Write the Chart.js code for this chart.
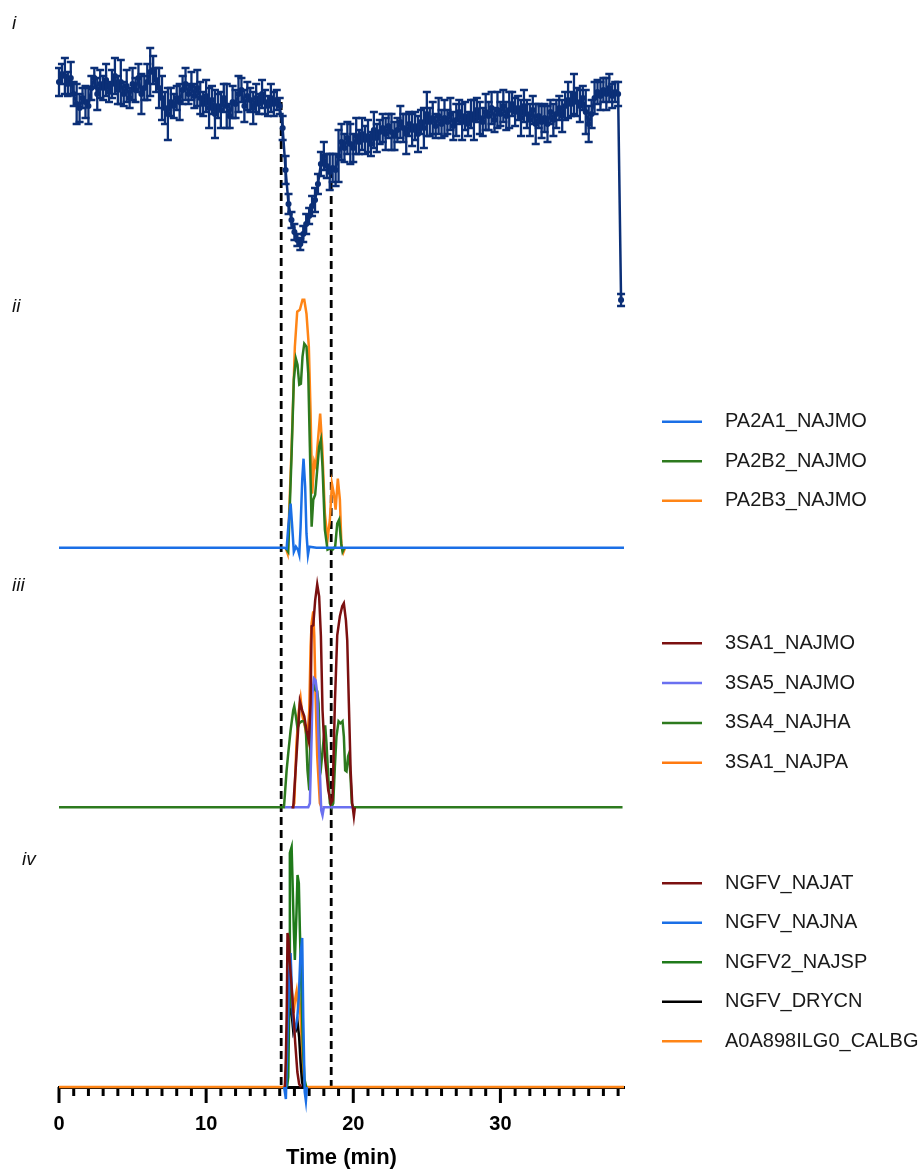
<!DOCTYPE html>
<html>
<head>
<meta charset="utf-8">
<script src="https://cdn.jsdelivr.net/npm/chart.js@4.4.0/dist/chart.umd.min.js"></script>
<style>
  html, body { margin: 0; padding: 0; background: #fff; }
</style>
</head>
<body>
<canvas id="chart" width="922" height="1169"></canvas>
<script>
// panel i: trace sampled every 0.2 min, with error bars
const iStep = 0.2;
const iValues = [
  238, 246, 244, 236, 242,  226, 216, 212, 222, 218,  214, 232, 242, 226, 236,
  232, 240, 228, 236, 244,  230, 238, 226, 234, 222,  236, 230, 242, 226, 232,
  238, 248, 250, 240, 232,  222, 212, 206, 218, 214,  222, 218, 230, 236, 226,
  234, 224, 232, 222, 216,  224, 212, 220, 206, 214,  210, 222, 214, 204, 218,
  216, 226, 230, 214, 224,  220, 212, 222, 216, 226,  218, 214, 222, 216, 220,
  214, 192, 150, 116, 100,  88, 80, 76, 86, 96,       104, 114, 120, 136, 156,
  164, 154, 148, 152, 150,  164, 178, 172, 182, 176,  172, 184, 178, 186, 180,
  184, 176, 190, 182, 188,  192, 186, 194, 188, 184,  190, 198, 192, 186, 196,
  190, 194, 186, 198, 192,  206, 198, 202, 194, 204,  196, 202, 198, 206, 194,
  200, 208, 198, 204, 196,  206, 200, 210, 202, 198,  208, 204, 212, 200, 210,
  206, 214, 204, 210, 216,  208, 212, 202, 214, 206,  200, 210, 196, 204, 198,
  202, 196, 208, 200, 206,  212, 204, 214, 220, 216,  226, 218, 214, 222, 208,
  196, 206, 222, 228, 224,  230, 226, 232, 224, 228,  226, 20
];
const iErrors = [
  14, 10, 18, 12, 16,  12, 20, 14, 10, 16,  18, 12, 10, 16, 14,
  12, 16, 10, 14, 18,  14, 22, 12, 16, 10,  16, 12, 14, 20, 12,
  18, 24, 14, 12, 20,  22, 16, 26, 14, 12,  12, 18, 14, 16, 10,
  14, 12, 18, 16, 12,  16, 20, 14, 24, 12,  18, 14, 22, 12, 16,
  14, 18, 12, 16, 14,  12, 16, 14, 10, 14,  12, 10, 14, 12, 10,
  8, 12, 14, 10, 8,    8, 6, 6, 8, 10,      8, 10, 12, 10, 12,
  14, 12, 18, 14, 16,  26, 18, 14, 16, 20,  14, 18, 12, 16, 14,
  16, 12, 18, 14, 12,  14, 16, 12, 18, 14,  12, 16, 14, 20, 12,
  16, 14, 18, 12, 20,  22, 14, 16, 12, 18,  14, 18, 12, 16, 14,
  16, 12, 18, 14, 12,  14, 20, 12, 16, 14,  18, 14, 16, 12, 18,
  12, 16, 14, 18, 12,  14, 12, 18, 16, 14,  16, 14, 20, 12, 16,
  14, 18, 12, 16, 14,  12, 16, 14, 18, 12,  20, 14, 16, 12, 22,
  18, 14, 16, 12, 14,  12, 16, 14, 12, 10,  12, 6
];
const markerTimes = [15.1, 18.5];
const markerTops = [218, 150];

// panel ii
const pa2a1T = [0, 15.3, 15.47, 15.6, 15.74, 15.85, 15.96, 16.1, 16.24, 16.33, 16.42, 16.53, 16.62, 16.73, 16.82, 16.92, 17.01, 17.5, 38.4];
const pa2a1V = [0, 0, -1, 24, 44, 21, -4, 1, -2, -7, 21, 68, 89, 61, 14, -7, 1, 0, 0];
const pa2b2T = [15.4, 15.58, 15.81, 15.96, 16.1, 16.21, 16.33, 16.44, 16.55, 16.67, 16.82, 16.94, 17.05, 17.17, 17.28, 17.41, 17.55, 17.68, 17.8, 17.91, 18.07, 18.25, 18.41, 18.59, 18.77, 18.91, 19.04, 19.18, 19.27, 19.4];
const pa2b2V = [0, -4, 94, 168, 189, 183, 163, 164, 191, 204, 201, 174, 101, 21, 48, 53, 78, 101, 108, 81, 18, -2, -1, -2, 1, 24, 28, 4, -4, 0];
const pa2b3T = [15.4, 15.54, 15.81, 16.03, 16.19, 16.37, 16.55, 16.67, 16.82, 16.98, 17.1, 17.21, 17.35, 17.46, 17.62, 17.75, 17.89, 18.07, 18.25, 18.41, 18.55, 18.68, 18.8, 18.95, 19.09, 19.2, 19.32, 19.45];
const pa2b3V = [0, -6, 101, 201, 236, 238, 248, 248, 234, 201, 134, 54, 86, 81, 111, 134, 101, 34, 8, 28, 64, 54, 38, 69, 48, 1, -5, 0];

// panel iii
const sa1MoT = [15.8, 15.92, 16.14, 16.37, 16.53, 16.67, 16.82, 16.98, 17.1, 17.17, 17.28, 17.41, 17.55, 17.68, 17.8, 17.91, 18.07, 18.3, 18.48, 18.59, 18.75, 18.91, 19.09, 19.25, 19.36, 19.5, 19.59, 19.7, 19.82, 19.93, 20.04, 20.11];
const sa1MoV = [0, 0, 51, 106, 97, 91, 77, 66, 104, 181, 182, 207, 223, 211, 171, 97, 51, 17, 4, 7, 104, 172, 191, 201, 204, 187, 167, 104, 37, 4, -9, 0];
const sa5T = [15.35, 16.94, 17.05, 17.17, 17.23, 17.32, 17.44, 17.55, 17.64, 17.73, 17.82, 17.91, 18.0, 20.0];
const sa5V = [0, 0, 4, 71, 114, 129, 127, 114, 71, 37, -3, -8, 0, 0];
const sa4T = [0, 15.29, 15.47, 15.58, 15.74, 15.92, 15.99, 16.1, 16.21, 16.33, 16.49, 16.67, 16.78, 16.89, 17.01, 17.1, 17.21, 17.32, 17.44, 17.55, 17.64, 17.73, 17.82, 17.96, 18.09, 18.18, 18.3, 18.41, 18.52, 18.64, 18.75, 18.86, 19.0, 19.13, 19.27, 19.36, 19.45, 19.54, 19.65, 19.72, 19.82, 19.9, 19.99, 38.3];
const sa4V = [0, 0, 37, 54, 77, 97, 101, 91, 79, 84, 86, 86, 77, 37, 17, 87, 121, 122, 117, 116, 104, 51, 42, 64, 82, 64, 31, 4, 0, 4, 41, 71, 86, 84, 86, 71, 37, 36, 51, 54, 28, 4, 0, 0];
const sa1PaT = [15.9, 15.99, 16.14, 16.3, 16.42, 16.55, 16.71, 16.87, 17.01, 17.1, 17.17, 17.28, 17.35, 17.44, 17.55, 17.73, 17.84];
const sa1PaV = [0, 4, 64, 97, 109, 91, 81, 67, 97, 161, 184, 196, 171, 111, 51, 4, 0];

// panel iv
const ngfvAtT = [15.35, 15.42, 15.48, 15.53, 15.58, 15.69, 15.81, 15.92, 16.05, 16.2, 16.32, 16.45];
const ngfvAtV = [0, 30, 77, 154, 150, 124, 100, 77, 45, 15, 3, 0];
const ngfvNaT = [15.3, 15.42, 15.55, 15.65, 15.74, 15.82, 15.9, 16.0, 16.1, 16.2, 16.3, 16.4, 16.53, 16.6, 16.7, 16.78, 16.85];
const ngfvNaV = [0, -12, 60, 115, 134, 100, 70, 55, 60, 70, 90, 130, 149, 70, -5, -14, 0];
const ngfv2SpT = [15.5, 15.58, 15.65, 15.69, 15.81, 15.87, 15.96, 16.03, 16.14, 16.21, 16.3, 16.37, 16.49, 16.58, 16.68, 16.8];
const ngfv2SpV = [0, 10, 80, 234, 240, 207, 157, 127, 174, 212, 204, 157, 90, 40, 8, 0];
const ngfvDrT = [15.4, 15.5, 15.6, 15.72, 15.82, 15.92, 16.02, 16.12, 16.22, 16.32, 16.42, 16.52, 16.6];
const ngfvDrV = [0, 30, 65, 86, 72, 56, 62, 58, 64, 50, 24, 5, 0];
const a0aT = [0, 15.35, 15.45, 15.55, 15.64, 15.74, 15.85, 15.95, 16.05, 16.15, 16.25, 16.35, 16.45, 16.55, 16.65, 16.75, 38.4];
const a0aV = [0, 0, 18, 60, 95, 105, 90, 74, 88, 96, 80, 86, 60, 26, 6, 0, 0];

const xTickLabels = [0, 10, 20, 30];

// layout of the stacked panels (pixels)
const areaTop = 40, areaBottom = 1087;
const panelBase = { y1: 320, y2: 547.7, y3: 807.3, y4: 1087 };

function pts(ts, vs) {
  return ts.map((t, k) => ({ x: t, y: vs[k] }));
}
function hiddenAxis(base) {
  return { type: "linear", display: false, max: base - areaTop, min: base - areaBottom };
}
function trace(label, ts, vs, color, axis) {
  return { label, data: pts(ts, vs), borderColor: color, backgroundColor: color, yAxisID: axis, borderWidth: 2.5, pointRadius: 0, tension: 0, clip: false };
}

const FONT = "'Liberation Sans', Arial, sans-serif";

const panelExtras = {
  id: "panelExtras",
  beforeDatasetsDraw(chart) {
    const { ctx, chartArea, scales } = chart;
    const x = scales.x;
    ctx.save();
    ctx.strokeStyle = "#000";
    ctx.lineWidth = 2.8;
    ctx.setLineDash([8, 5]);
    markerTimes.forEach((t, k) => {
      const px = x.getPixelForValue(t);
      ctx.beginPath();
      ctx.moveTo(px, scales.y1.getPixelForValue(markerTops[k]));
      ctx.lineTo(px, chartArea.bottom);
      ctx.stroke();
    });
    ctx.setLineDash([]);
    // tick marks, long ones at labelled values
    ctx.lineWidth = 3;
    x.ticks.forEach(tk => {
      const px = x.getPixelForValue(tk.value);
      const len = xTickLabels.includes(tk.value) ? 16 : 9;
      ctx.beginPath();
      ctx.moveTo(px, chartArea.bottom);
      ctx.lineTo(px, chartArea.bottom + len);
      ctx.stroke();
    });
    ctx.restore();
  },
  afterDatasetsDraw(chart) {
    const { ctx, scales } = chart;
    const ds = chart.data.datasets[0];
    ctx.save();
    ctx.strokeStyle = ds.borderColor;
    ctx.lineWidth = 2.3;
    ds.data.forEach((p, k) => {
      const px = scales.x.getPixelForValue(p.x);
      const top = scales.y1.getPixelForValue(p.y + iErrors[k]);
      const bot = scales.y1.getPixelForValue(p.y - iErrors[k]);
      ctx.beginPath();
      ctx.moveTo(px, top); ctx.lineTo(px, bot);
      ctx.moveTo(px - 4, top); ctx.lineTo(px + 4, top);
      ctx.moveTo(px - 4, bot); ctx.lineTo(px + 4, bot);
      ctx.stroke();
    });
    ctx.restore();
  },
  afterDraw(chart, args, opts) {
    const { ctx } = chart;
    ctx.save();
    // panel labels
    ctx.fillStyle = "#111";
    ctx.font = "italic 19px " + FONT;
    ctx.textBaseline = "middle";
    opts.panelLabels.forEach(p => ctx.fillText(p.text, p.x, p.y));
    // legends, one block per panel
    ctx.font = "20px " + FONT;
    Object.entries(opts.legendRows).forEach(([axis, row]) => {
      const sets = chart.data.datasets.filter(d => d.yAxisID === axis);
      sets.forEach((d, k) => {
        const y = row.y + k * row.gap;
        ctx.strokeStyle = d.borderColor;
        ctx.lineWidth = 2.5;
        ctx.beginPath();
        ctx.moveTo(662, y); ctx.lineTo(702, y);
        ctx.stroke();
        ctx.fillStyle = "#1a1a1a";
        ctx.fillText(d.label, 725, y);
      });
    });
    ctx.restore();
  }
};

new Chart(document.getElementById("chart"), {
  type: "line",
  data: {
    datasets: [
      { label: "i", data: pts(iValues.map((_, k) => +(k * iStep).toFixed(1)), iValues), borderColor: "#0b2f77", backgroundColor: "#0b2f77",
        yAxisID: "y1", borderWidth: 2.5, pointRadius: 1.8, tension: 0, clip: false },
      trace("PA2A1_NAJMO", pa2a1T, pa2a1V, "#1a6fe6", "y2"),
      trace("PA2B2_NAJMO", pa2b2T, pa2b2V, "#2d7a1e", "y2"),
      trace("PA2B3_NAJMO", pa2b3T, pa2b3V, "#ff8516", "y2"),
      trace("3SA1_NAJMO", sa1MoT, sa1MoV, "#7b1010", "y3"),
      trace("3SA5_NAJMO", sa5T, sa5V, "#6a70f0", "y3"),
      trace("3SA4_NAJHA", sa4T, sa4V, "#2d7a1e", "y3"),
      trace("3SA1_NAJPA", sa1PaT, sa1PaV, "#ff7a10", "y3"),
      trace("NGFV_NAJAT", ngfvAtT, ngfvAtV, "#7b1010", "y4"),
      trace("NGFV_NAJNA", ngfvNaT, ngfvNaV, "#1a6fe6", "y4"),
      trace("NGFV2_NAJSP", ngfv2SpT, ngfv2SpV, "#1f7a1a", "y4"),
      trace("NGFV_DRYCN", ngfvDrT, ngfvDrV, "#000000", "y4"),
      trace("A0A898ILG0_CALBG", a0aT, a0aV, "#ff8516", "y4")
    ]
  },
  options: {
    responsive: false,
    animation: false,
    events: [],
    layout: { padding: { left: 59, right: 298, top: areaTop, bottom: 0 } },
    scales: {
      x: {
        type: "linear",
        min: 0,
        max: 38.4,
        position: "bottom",
        grid: { drawOnChartArea: false, drawTicks: false },
        border: { display: true, color: "#000", width: 3 },
        ticks: {
          stepSize: 1,
          includeBounds: false,
          autoSkip: false,
          maxRotation: 0,
          padding: 25,
          color: "#000",
          font: { family: FONT, weight: "bold", size: 20 },
          callback: v => (xTickLabels.includes(v) ? String(v) : "")
        },
        title: {
          display: true,
          text: "Time (min)",
          color: "#000",
          padding: { top: 0, bottom: 0 },
          font: { family: FONT, weight: "bold", size: 22, lineHeight: 1 }
        },
        afterFit(scale) { scale.height = 1169 - areaBottom; }
      },
      y1: hiddenAxis(panelBase.y1),
      y2: hiddenAxis(panelBase.y2),
      y3: hiddenAxis(panelBase.y3),
      y4: hiddenAxis(panelBase.y4)
    },
    plugins: {
      legend: { display: false },
      tooltip: { enabled: false },
      panelExtras: {
        panelLabels: [
          { text: "i", x: 12, y: 24 },
          { text: "ii", x: 12, y: 307 },
          { text: "iii", x: 12, y: 586 },
          { text: "iv", x: 22, y: 860 }
        ],
        legendRows: {
          y2: { y: 421.7, gap: 39.5 },
          y3: { y: 643.3, gap: 39.8 },
          y4: { y: 883.3, gap: 39.5 }
        }
      }
    }
  },
  plugins: [panelExtras]
});
</script>
</body>
</html>
